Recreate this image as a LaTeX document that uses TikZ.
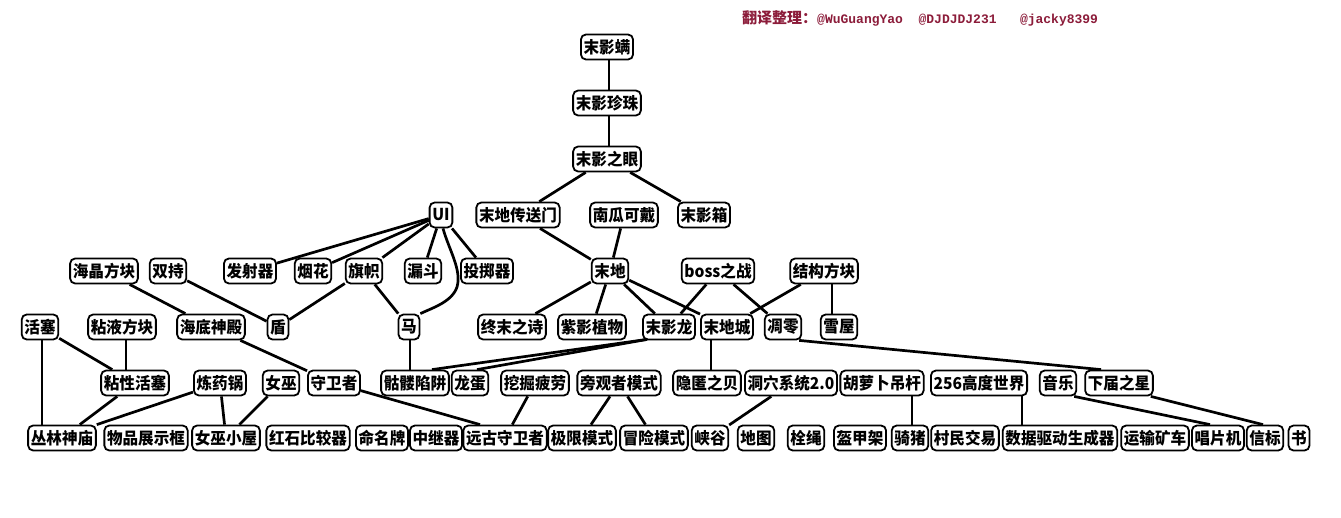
\documentclass[tikz,border=0pt]{standalone}
\usepackage{fontspec}
\setmainfont{Noto Sans CJK SC}
\newfontfamily\boxfont{Noto Sans CJK SC}[FakeStretch=0.95]
\newfontfamily\monofnt{Liberation Mono}
\definecolor{titlered}{RGB}{140,28,58}
\pgfdeclarelayer{bg}
\pgfdeclarelayer{bgfill}
\pgfsetlayers{bgfill,bg,main}
\begin{document}
\begin{tikzpicture}[x=1pt,y=-1pt,
  box/.style={draw, line width=1.8pt, rounded corners=5pt, fill=white, inner xsep=2.7pt, inner ysep=1pt, minimum height=25pt, font=\boxfont\fontsize{16.4}{16}\selectfont\bfseries},
  link/.style={line width=2.7pt}]
\useasboundingbox (0,0) rectangle (1341,517);
\begin{pgfonlayer}{bgfill}
\fill[white] (0,0) rectangle (1341,517);
\end{pgfonlayer}
\node[anchor=west, text=titlered, inner sep=0pt] (title) at (742,18) {\fontsize{15}{15}\selectfont\bfseries 翻译整理：{\monofnt\fontsize{13}{13}\selectfont\bfseries @WuGuangYao\ \ @DJDJDJ231\ \ \ @jacky8399}};
% row 0-2
\node[box] (emite) at (607,47) {末影螨};
\node[box] (pearl) at (607,103) {末影珍珠};
\node[box] (eye) at (607,159) {末影之眼};
\node[box] (portal) at (518,215) {末地传送门};
\node[box] (pumpkin) at (624,215) {南瓜可戴};
\node[box] (echest) at (704,215) {末影箱};
\node[box] (ui) at (441,215) {UI};
% row y=271
\node[box] (prism) at (104,271) {海晶方块};
\node[box] (dual) at (168,271) {双持};
\node[box] (disp) at (250,271) {发射器};
\node[box] (firework) at (313,271) {烟花};
\node[box] (banner) at (364,271) {旗帜};
\node[box] (hopper) at (423,271) {漏斗};
\node[box] (dropper) at (487,271) {投掷器};
\node[box] (theend) at (610,271) {末地};
\node[box] (boss) at (718,271) {boss之战};
\node[box] (struct) at (824,271) {结构方块};
% row y=327
\node[box] (piston) at (40,327) {活塞};
\node[box] (slime) at (122,327) {粘液方块};
\node[box] (monument) at (211,327) {海底神殿};
\node[box] (shield) at (278,327) {盾};
\node[box] (horse) at (409,327) {马};
\node[box] (poem) at (512,327) {终末之诗};
\node[box] (chorus) at (592,327) {紫影植物};
\node[box] (dragon) at (669,327) {末影龙};
\node[box] (city) at (727,327) {末地城};
\node[box] (wither) at (783,327) {凋零};
\node[box] (igloo) at (839,327) {雪屋};
% row y=383
\node[box] (stickyp) at (135,383) {粘性活塞};
\node[box] (cauldron) at (220,383) {炼药锅};
\node[box] (witch) at (281,383) {女巫};
\node[box] (guardian) at (334,383) {守卫者};
\node[box] (skeltrap) at (415,383) {骷髅陷阱};
\node[box] (egg) at (470,383) {龙蛋};
\node[box] (fatigue) at (535,383) {挖掘疲劳};
\node[box] (spect) at (619,383) {旁观者模式};
\node[box] (shulker) at (707,383) {隐匿之贝};
\node[box] (cave) at (791,383) {洞穴系统2.0};
\node[box] (carrot) at (882,383) {胡萝卜吊杆};
\node[box] (h256) at (979,383) {256高度世界};
\node[box] (music) at (1058,383) {音乐};
\node[box] (nstar) at (1119,383) {下届之星};
% row y=438
\node[box] (jungle) at (62,438) {丛林神庙};
\node[box] (frame) at (146,438) {物品展示框};
\node[box] (hut) at (226,438) {女巫小屋};
\node[box] (comparator) at (308,438) {红石比较器};
\node[box] (nametag) at (382,438) {命名牌};
\node[box] (repeater) at (436,438) {中继器};
\node[box] (elder) at (505,438) {远古守卫者};
\node[box] (hardcore) at (582,438) {极限模式};
\node[box] (adventure) at (654,438) {冒险模式};
\node[box] (ravine) at (710,438) {峡谷};
\node[box] (map) at (756,438) {地图};
\node[box] (lead) at (806,438) {栓绳};
\node[box] (armor) at (860,438) {盔甲架};
\node[box] (pig) at (910,438) {骑猪};
\node[box] (trade) at (965,438) {村民交易};
\node[box] (datagen) at (1060,438) {数据驱动生成器};
\node[box] (minecart) at (1155,438) {运输矿车};
\node[box] (jukebox) at (1218,438) {唱片机};
\node[box] (beacon) at (1265,438) {信标};
\node[box] (book) at (1299,438) {书};
% helper coordinates
\coordinate (pistx) at ([xshift=2pt]piston.south);
\coordinate (slimex) at ([xshift=4pt]slime.south);
\coordinate (horsex) at ([xshift=1pt]horse.south);
\coordinate (shulkx) at ([xshift=4pt]shulker.north);
\coordinate (pigx) at ([xshift=2pt]pig.north);
\coordinate (h256x) at ([xshift=-6pt]h256.south east);
\coordinate (structx) at ([xshift=8pt]struct.south);
\coordinate (emitex) at ([xshift=2pt]emite.south);
\coordinate (pearlx) at ([xshift=2pt]pearl.south);
\coordinate (uimid) at (457,287);
\coordinate (dragx) at ([xshift=5pt,yshift=1pt]dragon.south west);
\begin{pgfonlayer}{bg}
\draw[link] (emitex) -- (emitex |- pearl.north);
\draw[link] (pearlx) -- (pearlx |- eye.north);
\draw[link] (eye) -- (portal);
\draw[link] (eye) -- (echest);
\draw[link] (portal) -- (theend);
\draw[link] (pumpkin) -- (theend);
\draw[link] (theend) -- (poem);
\draw[link] (theend) -- (chorus);
\draw[link] (theend) -- (dragon);
\draw[link] (theend) -- (city);
\draw[link] (boss) -- (dragon);
\draw[link] (boss) -- (wither);
\draw[link] (struct) -- (city);
\draw[link] (structx) -- (structx |- igloo.north);
\draw[link] (ui) -- (disp);
\draw[link] (ui) -- (firework);
\draw[link] (ui) -- (banner);
\draw[link] (ui) -- (hopper);
\draw[link] (ui) -- (dropper);
\draw[link] ([xshift=2pt]ui.south) .. controls (449,250) and (462,270) .. (uimid) .. controls (452,302) and (432,308) .. (horse.north east);
\draw[link] (banner) -- (shield);
\draw[link] (banner) -- (horse);
\draw[link] (dual) -- (shield);
\draw[link] (prism) -- (monument);
\draw[link] (monument) -- (guardian);
\draw[link] (guardian) -- ([xshift=-25pt]elder.north);
\draw[link] (piston) -- (stickyp);
\draw[link] (pistx) -- (pistx |- jungle.north);
\draw[link] (slimex) -- (slimex |- stickyp.north);
\draw[link] (stickyp) -- (jungle);
\draw[link] (cauldron) -- (jungle.north east);
\draw[link] (cauldron) -- (hut);
\draw[link] (witch) -- (hut);
\draw[link] (horsex) -- (horsex |- skeltrap.north);
\draw[link] (dragx) -- ([xshift=17pt]skeltrap.north);
\draw[link] (dragx) -- ([xshift=7pt]egg.north);
\draw[link] (fatigue) -- (elder);
\draw[link] (spect) -- (hardcore);
\draw[link] (spect) -- (adventure);
\draw[link] (shulkx) -- (shulkx |- city.south);
\draw[link] (cave) -- (ravine);
\draw[link] (pigx) -- (pigx |- carrot.south);
\draw[link] (h256x) -- (h256x |- datagen.north);
\draw[link] ([xshift=-3pt]music.south east) -- ([xshift=-8pt]jukebox.north);
\draw[link] ([xshift=-3pt]nstar.south east) -- ([xshift=-2pt]beacon.north);
\draw[link] ([xshift=-3pt]wither.south east) -- ([xshift=-18pt]nstar.north);
\end{pgfonlayer}
\end{tikzpicture}
\end{document}
